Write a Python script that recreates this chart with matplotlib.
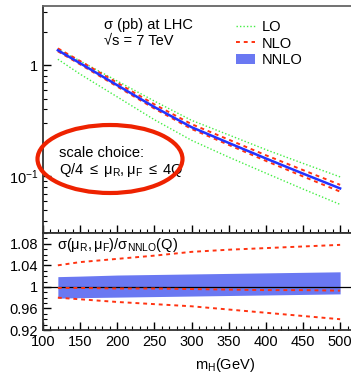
import numpy as np
import matplotlib
matplotlib.use("Agg")
import matplotlib.pyplot as plt
from matplotlib.patches import Ellipse, Patch
from matplotlib.lines import Line2D
from matplotlib.ticker import FixedLocator, MultipleLocator, FuncFormatter

plt.rcParams['font.family'] = ['Liberation Sans', 'DejaVu Sans']
plt.rcParams['mathtext.fontset'] = 'custom'
plt.rcParams['mathtext.rm'] = 'Liberation Sans'
plt.rcParams['mathtext.it'] = 'Liberation Sans:italic'

# Higgs mass points (GeV)
mass = [120, 150, 200, 250, 300, 350, 400, 450, 500]

# cross sections (pb), top panel
nnlo = [1.36, 1.04, 0.66, 0.42, 0.277, 0.20, 0.145, 0.106, 0.078]
lo_up = [1.39, 1.09, 0.72, 0.475, 0.319, 0.236, 0.174, 0.131, 0.099]
lo_low = [1.13, 0.83, 0.518, 0.323, 0.211, 0.149, 0.107, 0.077, 0.056]
nlo_up = [1.414, 1.088, 0.694, 0.444, 0.295, 0.214, 0.155, 0.114, 0.084]
nlo_low = [1.333, 1.016, 0.642, 0.407, 0.267, 0.192, 0.138, 0.100, 0.073]

# ratio to NNLO at central scale, bottom panel
r_nnlo_hi = [1.019, 1.020, 1.022, 1.023, 1.024, 1.025, 1.026, 1.027, 1.028]
r_nnlo_lo = [0.979, 0.980, 0.981, 0.982, 0.983, 0.984, 0.985, 0.986, 0.987]
r_nlo_hi = [1.040, 1.046, 1.052, 1.058, 1.065, 1.069, 1.072, 1.075, 1.078]
r_nlo_lo = [0.980, 0.977, 0.972, 0.968, 0.964, 0.958, 0.952, 0.946, 0.940]
r_nlo_mid = [0.998, 0.998, 0.997, 0.997, 0.996, 0.995, 0.994, 0.994, 0.993]

green = '#44ee44'
red = '#ff3311'
blue = '#2233ff'
band = '#6a78f2'

W, H = 351, 374
fig = plt.figure(figsize=(W / 100, H / 100), dpi=100)
left = 43 / W
width = 1.005 - left
ax1 = fig.add_axes([left, 1 - 233 / H, width, 227 / H])
ax2 = fig.add_axes([left, 1 - 330 / H, width, 97 / H])


def ftext(px, py, s, **kw):
    # text placed by pixel position (left edge, vertical centre)
    fig.text(px / W, 1 - py / H, s, ha=kw.pop('ha', 'left'), va='center', fontsize=kw.pop('fontsize', 10.5), **kw)


# top panel
ax1.set_yscale('log')
ax1.plot(mass, lo_up, ls=(0, (1, 1.5)), color=green, lw=1.0)
ax1.plot(mass, lo_low, ls=(0, (1, 1.5)), color=green, lw=1.0)
ax1.plot(mass, nlo_up, ls=(0, (2, 2)), color=red, lw=1.4)
ax1.plot(mass, nlo_low, ls=(0, (2, 2)), color=red, lw=1.4)
ax1.plot(mass, nnlo, color=blue, lw=1.8)
ax1.set_xlim(100, 517)
ax1.set_ylim(0.031, 3.4)
ax1.yaxis.set_major_locator(FixedLocator([0.1, 1]))
ax1.yaxis.set_major_formatter(FuncFormatter(lambda v, p: '1' if v == 1 else r'$\mathrm{10^{-1}}$'))
ax1.yaxis.set_minor_locator(FixedLocator([k * d for d in (0.01, 0.1, 1) for k in range(2, 10)]))
ax1.yaxis.set_minor_formatter(FuncFormatter(lambda v, p: ''))
ax1.xaxis.set_major_locator(MultipleLocator(50))
ax1.xaxis.set_minor_locator(MultipleLocator(10))
ax1.tick_params(axis='x', labelbottom=False)

ftext(104, 25, 'σ (pb) at LHC')
ftext(104, 41, '\u221as = 7 TeV')
ftext(59, 153, 'scale choice:')
ftext(59, 170, r'$\mathrm{Q/4\ \leq\ μ_R,μ_F\ \leq\ 4Q}$')

handles = [Line2D([], [], ls=(0, (1, 1.5)), color=green, lw=1.0),
           Line2D([], [], ls=(0, (2, 2)), color=red, lw=1.4),
           Patch(facecolor=band, edgecolor='none')]
ax1.legend(handles, ['LO', 'NLO', 'NNLO'], loc='upper left', bbox_to_anchor=(0.59, 0.985),
           frameon=False, fontsize=10.5, handlelength=1.3, handletextpad=0.5,
           labelspacing=0.2, borderpad=0.2)

# bottom panel
ax2.fill_between(mass, r_nnlo_lo, r_nnlo_hi, color=band, lw=0)
ax2.axhline(1.0, color='black', lw=0.9)
ax2.plot(mass, r_nlo_hi, ls=(0, (2, 2)), color=red, lw=1.4)
ax2.plot(mass, r_nlo_lo, ls=(0, (2, 2)), color=red, lw=1.4)
ax2.plot(mass, r_nlo_mid, ls=(0, (2, 2)), color=red, lw=1.4)
ax2.set_xlim(100, 517)
ax2.set_ylim(0.92, 1.10)
ax2.yaxis.set_major_locator(FixedLocator([0.92, 0.96, 1.0, 1.04, 1.08]))
ax2.yaxis.set_major_formatter(FuncFormatter(lambda v, p: '1' if abs(v - 1) < 1e-9 else f'{v:g}'))
ax2.yaxis.set_minor_locator(MultipleLocator(0.01))
ax2.xaxis.set_major_locator(MultipleLocator(50))
ax2.xaxis.set_minor_locator(MultipleLocator(10))
ftext(57, 245, r'$\mathrm{σ(μ_R,μ_F)/σ_{NNLO}(Q)}$')
ftext(225, 365, r'$\mathrm{m_H(GeV)}$', ha='center')

for ax in (ax1, ax2):
    ax.tick_params(which='both', direction='in', labelsize=10.5, right=False, top=False)
    ax.tick_params(which='major', length=6, width=1.0)
    ax.tick_params(which='minor', length=3, width=0.8)
    for s in ax.spines.values():
        s.set_color('#333333')
        s.set_linewidth(1.3)
ax1.spines['top'].set_color('#666666')

# red ellipse highlight around the scale choice text
fig.patches.append(Ellipse((110 / W, 1 - 159 / H), 145 / W, 68 / H, transform=fig.transFigure,
                           fill=False, edgecolor='#ee2200', lw=3.0, zorder=10))

fig.savefig('out.png', dpi=100)
